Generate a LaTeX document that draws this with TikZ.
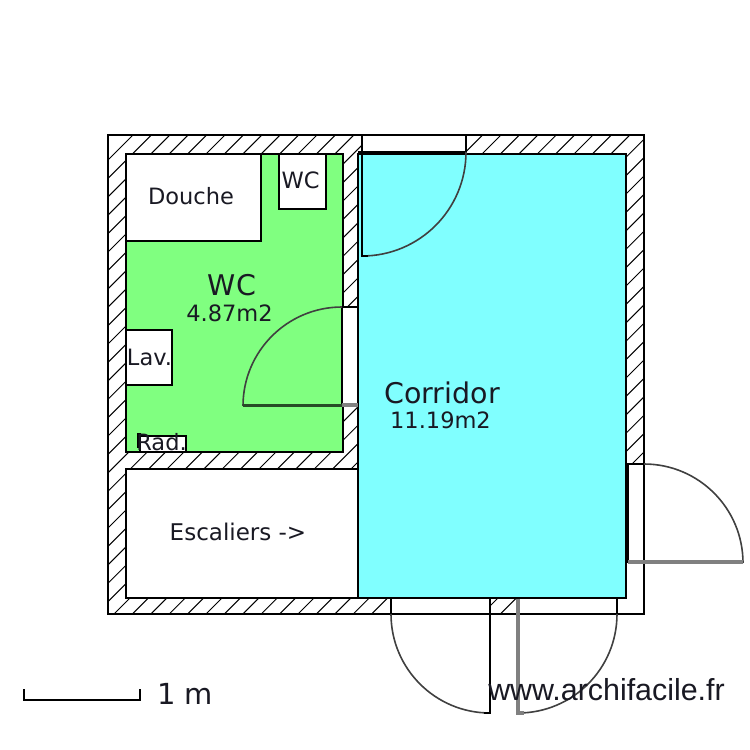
\documentclass[tikz,border=0pt]{standalone}
\usepackage{fontspec}
\setmainfont{DejaVu Sans}
\newfontfamily\markfont{Liberation Sans}
\definecolor{wcgreen}{RGB}{128,255,128}
\definecolor{corrcyan}{RGB}{128,255,255}
\definecolor{leafgray}{RGB}{128,128,128}
\definecolor{inktext}{RGB}{25,25,35}
\tikzset{
  wall/.style={draw=black,line width=1.5pt},
  room/.style={draw=black,line width=1.5pt},
  fixture/.style={draw=black,fill=white,line width=1.5pt},
  opening/.style={draw=black,fill=white,line width=1.2pt},
  swing/.style={draw=black!75,line width=1.6pt},
  leaf/.style={draw=black,line width=1.8pt},
  greyleaf/.style={draw=leafgray,line width=3.2pt},
  hatchline/.style={draw=black,line width=1pt},
  label/.style={text=inktext,inner sep=0pt,anchor=center},
  smalltext/.style={label,font=\fontsize{22.5}{26}\selectfont},
  bigtext/.style={label,font=\fontsize{28.5}{32}\selectfont}
}
\begin{document}
\begin{tikzpicture}[x=1pt,y=-1pt]
\useasboundingbox (0,0) rectangle (750,750);
\fill[white] (0,0) rectangle (750,750);
% hatched wall mass
\begin{scope}
\clip (108,135) rectangle (644,614);
\foreach \k in {0,...,50}{
  \pgfmathsetmacro{\s}{268+18.4*\k}
  \draw[hatchline] (\s-135,135) -- (\s-614,614);
}
\end{scope}
\draw[wall] (108,135) rectangle (644,614);
% rooms
\filldraw[room,fill=wcgreen] (126,154) rectangle (343,452);
\filldraw[room,fill=white] (126,469) rectangle (358,598);
\filldraw[room,fill=corrcyan] (358,154) rectangle (626,598);
% fixtures
\filldraw[fixture] (126,154) rectangle (261,241);
\filldraw[fixture] (279,154) rectangle (326,209);
\filldraw[fixture] (126,330) rectangle (172,385);
\filldraw[fixture] (140,436) rectangle (186,452);
\fill[black] (137,433) rectangle (141,448);
% top door
\filldraw[opening] (362,135) rectangle (466,152);
\draw[black,line width=2.4pt] (358,152) -- (466,152);
\draw[swing] (466,152) arc[start angle=0,end angle=90,radius=104];
\draw[leaf] (362,152) -- (362,256) -- (368,256);
% WC door
\filldraw[opening] (342,307) rectangle (358,405);
\draw[swing] (342,307) arc[start angle=-90,end angle=-180,radius=99];
\draw[draw=black!70!wcgreen,line width=3pt] (243,405) -- (342,405);
\draw[greyleaf] (342,405) -- (358,405);
% right door
\filldraw[opening] (628,464) rectangle (644,562);
\draw[black,line width=2.4pt] (628,464) -- (628,562);
\draw[swing] (644,464) arc[start angle=-90,end angle=0,radius=99];
\draw[greyleaf] (628,562) -- (743,562);
% bottom doors
\filldraw[opening] (391,598) rectangle (490,614);
\filldraw[opening] (518,598) rectangle (617,614);
\draw[swing] (391,614) arc[start angle=180,end angle=90,radius=99];
\draw[leaf] (490,598) -- (490,713) -- (484,713);
\draw[swing] (617,614) arc[start angle=0,end angle=90,radius=99];
\draw[greyleaf] (518,598) -- (518,713) -- (524,713);
\draw[draw=black,line width=1.5pt] (358,598) -- (626,598);
% texts
\node[smalltext] (douche) at (191,196) {Douche};
\node[smalltext] (wcsmall) at (300.5,180) {WC};
\node[bigtext] (wcname) at (232,285) {WC};
\node[smalltext] (wcarea) at (229.5,313) {4.87m2};
\node[smalltext] (lav) at (149.5,357) {Lav.};
\node[smalltext] (rad) at (161.5,442) {Rad.};
\node[label,font=\fontsize{23}{26}\selectfont] (esc) at (238,532) {Escaliers ->};
\node[bigtext] (corr) at (442,393) {Corridor};
\node[smalltext] (corrarea) at (440.5,420) {11.19m2};
\node[label,font=\fontsize{29}{32}\selectfont] (onem) at (185,694) {1 m};
\node[label,font=\markfont\fontsize{30.4}{32}\selectfont] (mark) at (606.5,690) {www.archifacile.fr};
% scale bar
\draw[black,line width=1.5pt] (24,689) -- (24,700) -- (140,700) -- (140,689);
\end{tikzpicture}
\end{document}
